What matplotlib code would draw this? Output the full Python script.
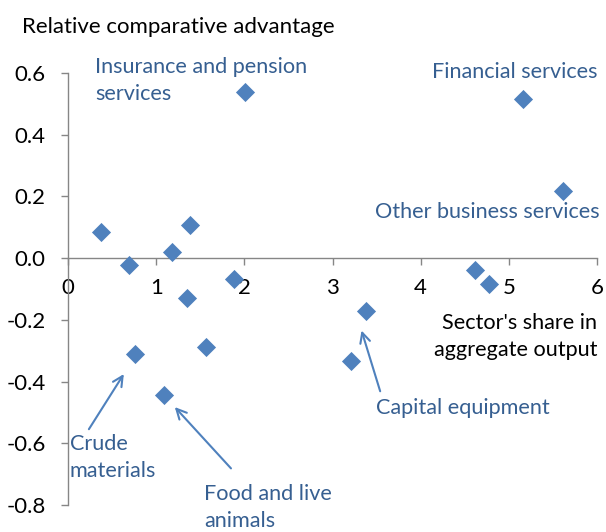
import matplotlib
matplotlib.use("Agg")
import matplotlib.pyplot as plt

# доля сектора в совокупном выпуске и индекс сравнительного преимущества
share = [0.37, 0.69, 1.18, 1.38, 1.35, 1.88, 0.76, 1.56, 1.09,
         2.01, 5.16, 5.61, 4.62, 4.77, 3.38, 3.21]
rca = [0.084, -0.023, 0.019, 0.107, -0.130, -0.068, -0.311, -0.288, -0.444,
       0.538, 0.515, 0.217, -0.039, -0.084, -0.172, -0.334]

x_ticks = [0, 1, 2, 3, 4, 5, 6]
y_ticks = [-0.8, -0.6, -0.4, -0.2, 0.0, 0.2, 0.4, 0.6]

# подписи без стрелок: текст, (x, y), выравнивание
labels = [
    ("Insurance and pension\nservices", (0.306, 0.575), "left"),
    ("Financial services", (6.0, 0.603), "right"),
    ("Other business services", (6.03, 0.149), "right"),
]
# подписи со стрелками: текст, точка стрелки, начало стрелки, позиция текста
arrow_labels = [
    ("Crude\nmaterials", (0.65, -0.368), (0.22, -0.562), (0.02, -0.645)),
    ("Food and live\nanimals", (1.19, -0.476), (1.87, -0.688), (1.54, -0.808)),
    ("Capital equipment", (3.32, -0.226), (3.55, -0.44), (3.49, -0.486)),
]

marker_color = "#4F81BD"
text_color = "#365F91"
font = ["Lato", "DejaVu Sans"]
fs = 15.6
ls = 1.45

plt.rcParams["font.family"] = font
fig = plt.figure(figsize=(6.06, 5.32), dpi=100)
ax = fig.add_axes([68 / 606, 27 / 532, 529 / 606, 432 / 532])

ax.scatter(share, rca, marker="D", s=95, color=marker_color, zorder=3,
           linewidths=0)

ax.set_xlim(0, 6)
ax.set_ylim(-0.8, 0.6)
ax.set_xticks(x_ticks)
ax.set_yticks(y_ticks)
ax.set_yticklabels([f"{v:.1f}" for v in y_ticks])

ax.spines["top"].set_visible(False)
ax.spines["right"].set_visible(False)
ax.spines["bottom"].set_position(("data", 0))
for s in ("left", "bottom"):
    ax.spines[s].set_color("#868686")
    ax.spines[s].set_linewidth(1.0)
ax.tick_params(axis="both", colors="#868686", labelcolor="black",
               labelsize=16, length=5, width=1.0, direction="out")
ax.tick_params(axis="x", pad=9)
ax.tick_params(axis="y", pad=11)
ax.patch.set_visible(False)

fig.text(22 / 606, 1 - 27 / 532, "Relative comparative advantage",
         fontsize=16, va="center", ha="left")

for txt, (tx, ty), ha in labels:
    ax.text(tx, ty, txt, color=text_color, fontsize=fs, ha=ha, va="center",
            linespacing=ls)

for txt, tip, tail, pos in arrow_labels:
    ax.annotate("", xy=tip, xytext=tail,
                arrowprops=dict(arrowstyle="->", color=marker_color, lw=1.5,
                                mutation_scale=18))
    ax.text(pos[0], pos[1], txt, color=text_color, fontsize=fs, ha="left",
            va="center", linespacing=ls, clip_on=False)

ax.text(6.0, -0.253, "Sector's share in\naggregate output", fontsize=fs,
        ha="right", va="center", linespacing=ls)

fig.savefig("out.png", dpi=100)
